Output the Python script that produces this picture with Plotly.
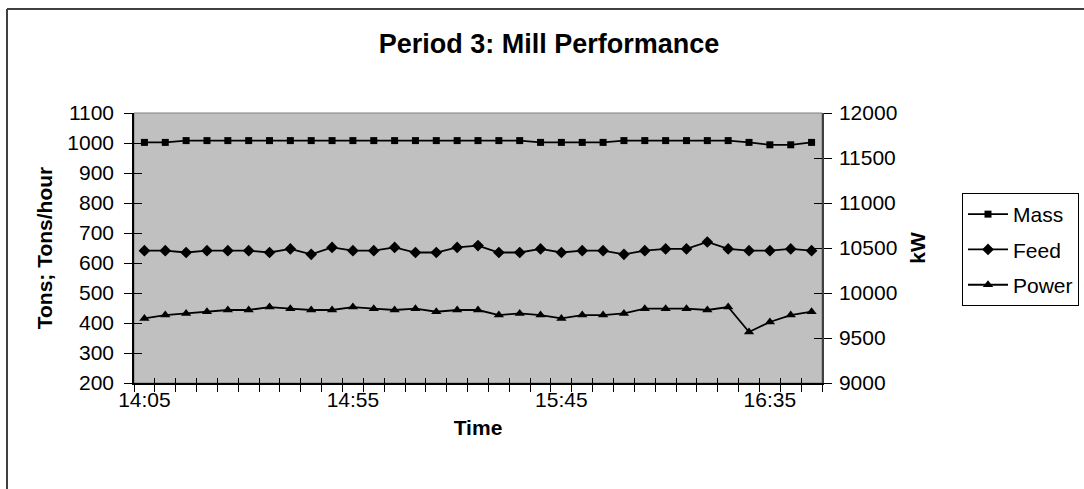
import plotly.graph_objects as go

times = ["14:05", "14:10", "14:15", "14:20", "14:25", "14:30", "14:35", "14:40", "14:45", "14:50",
         "14:55", "15:00", "15:05", "15:10", "15:15", "15:20", "15:25", "15:30", "15:35", "15:40",
         "15:45", "15:50", "15:55", "16:00", "16:05", "16:10", "16:15", "16:20", "16:25", "16:30",
         "16:35", "16:40", "16:45"]

mass = [1002, 1002, 1008, 1008, 1008, 1008, 1008, 1008, 1008, 1008,
        1008, 1008, 1008, 1008, 1008, 1008, 1008, 1008, 1008, 1002,
        1002, 1002, 1002, 1008, 1008, 1008, 1008, 1008, 1008, 1002,
        994, 994, 1002]

feed = [641, 641, 635, 641, 641, 641, 635, 647, 629, 652,
        641, 641, 652, 635, 635, 652, 658, 635, 635, 647,
        635, 641, 641, 629, 641, 647, 647, 670, 647, 641,
        641, 647, 641]

power = [9718, 9755, 9773, 9792, 9811, 9811, 9844, 9826, 9811, 9811,
         9844, 9826, 9811, 9826, 9792, 9811, 9811, 9755, 9773, 9755,
         9718, 9755, 9755, 9773, 9826, 9826, 9826, 9811, 9844, 9567,
         9678, 9755, 9792]

tick_labels = ["14:05", "14:55", "15:45", "16:35"]

FONT = "Liberation Sans, Arial, sans-serif"

# plot area in pixels
W, H = 1084, 489
L, R, T, B = 134, 822, 113, 383
pw, ph = R - L, B - T


def px_x(px):
    return (px - L) / pw


def px_y(py):
    return (B - py) / ph


ticktext = [t if t in tick_labels else "" for t in times]

fig = go.Figure()
fig.add_trace(go.Scatter(x=times, y=mass, name="Mass", mode="lines+markers",
                         line=dict(color="black", width=1.8),
                         marker=dict(symbol="square", size=7, color="black"),
                         legendgroup="a"))
fig.add_trace(go.Scatter(x=times, y=feed, name="Feed", mode="lines+markers",
                         line=dict(color="black", width=1.8),
                         marker=dict(symbol="diamond", size=9, color="black"),
                         legendgroup="b"))
fig.add_trace(go.Scatter(x=times, y=power, name="Power", mode="lines+markers",
                         line=dict(color="black", width=1.8),
                         marker=dict(symbol="triangle-up", size=9, color="black"),
                         yaxis="y2", legendgroup="c"))
# helper (empty) traces to register the overlay axes that draw inward tick halves
fig.add_trace(go.Scatter(x=[times[0]], y=[None], yaxis="y3", showlegend=False,
                         hoverinfo="skip"))
fig.add_trace(go.Scatter(x=[times[0]], y=[None], yaxis="y4", showlegend=False,
                         hoverinfo="skip"))
fig.add_trace(go.Scatter(x=[times[0]], y=[None], xaxis="x2", showlegend=False,
                         hoverinfo="skip"))

tickfont = dict(family=FONT, size=21, color="black")
titlefont = dict(family=FONT, size=21, color="black", weight="bold")

fig.update_layout(
    width=W, height=H,
    margin=dict(l=L, r=W - R, t=T, b=H - B, pad=0, autoexpand=False),
    paper_bgcolor="white",
    plot_bgcolor="#C0C0C0",
    font=dict(family=FONT, size=21, color="black"),
    title=dict(text="<b>Period 3: Mill Performance</b>",
               font=dict(family=FONT, size=27, color="black"),
               x=px_x(549), xref="paper", xanchor="center",
               y=1 - 44 / H, yref="container", yanchor="middle"),
    showlegend=True,
    legend=dict(xref="container", yref="container",
                x=962 / W, y=1 - 193 / H, xanchor="left", yanchor="top",
                bgcolor="white", bordercolor="black", borderwidth=1,
                font=dict(family=FONT, size=21, color="black"),
                tracegroupgap=5, traceorder="grouped", itemwidth=40),
    xaxis=dict(type="category", categoryorder="array", categoryarray=times,
               tickmode="array", tickvals=times, ticktext=ticktext,
               tickson="boundaries", ticks="outside", ticklen=7, tickcolor="black",
               tickwidth=1, tickangle=0, showgrid=False, zeroline=False,
               showline=True, linecolor="black", linewidth=1.5,
               tickfont=tickfont, ticklabelstandoff=-3,
               title=dict(text="Time", font=titlefont, standoff=10),
               range=[-0.5, len(times) - 0.5]),
    xaxis2=dict(type="category", categoryorder="array", categoryarray=times,
                overlaying="x", matches="x", tickmode="array", tickvals=times,
                tickson="boundaries", ticks="inside", ticklen=5, tickcolor="black",
                tickwidth=1, showticklabels=False, showgrid=False, zeroline=False,
                showline=False, side="bottom", anchor="y"),
    yaxis=dict(range=[200, 1100], dtick=100, tick0=200, ticks="outside",
               ticklen=8, tickcolor="black", tickwidth=1,
               showgrid=False, zeroline=False, showline=True, linecolor="black",
               linewidth=1.5, tickfont=tickfont, ticklabelstandoff=6,
               title=dict(text="Tons; Tons/hour", font=titlefont, standoff=9)),
    yaxis2=dict(range=[9000, 12000], dtick=500, tick0=9000, overlaying="y",
                side="right", ticks="outside", ticklen=8, tickcolor="black",
                tickwidth=1, tickformat="d", showgrid=False, zeroline=False,
                showline=True, linecolor="#404040", linewidth=1.5,
                tickfont=tickfont, ticklabelstandoff=3,
                title=dict(text="kW", font=titlefont, standoff=14)),
    yaxis3=dict(range=[200, 1100], dtick=100, tick0=200, overlaying="y",
                side="left", ticks="inside", ticklen=8, tickcolor="black",
                tickwidth=1, showticklabels=False, showgrid=False,
                zeroline=False, showline=False),
    yaxis4=dict(range=[9000, 12000], dtick=500, tick0=9000, overlaying="y",
                side="right", ticks="inside", ticklen=8, tickcolor="black",
                tickwidth=1, showticklabels=False, showgrid=False,
                zeroline=False, showline=False),
    shapes=[
        # plot area outline
        dict(type="rect", xref="paper", yref="paper", x0=0, x1=1, y0=0, y1=1,
             line=dict(color="#808080", width=1), layer="below"),
        # chart frame (top and left edges visible)
        dict(type="line", xref="paper", yref="paper",
             x0=px_x(7), x1=px_x(W + 5), y0=px_y(9), y1=px_y(9),
             line=dict(color="#404040", width=2)),
        dict(type="line", xref="paper", yref="paper",
             x0=px_x(7), x1=px_x(7), y0=px_y(9), y1=px_y(H + 5),
             line=dict(color="#404040", width=2)),
    ],
)

fig.write_html("out.html")
